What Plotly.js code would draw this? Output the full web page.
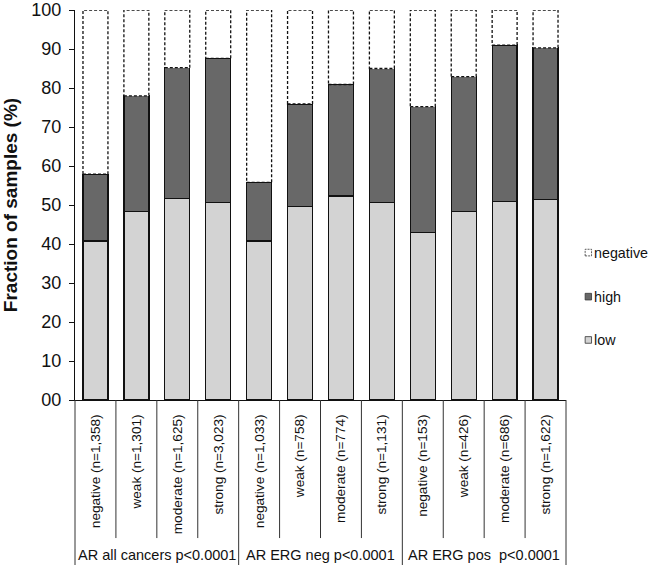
<!DOCTYPE html>
<html>
<head>
<meta charset="utf-8">
<script src="https://cdn.plot.ly/plotly-3.0.1.min.js"></script>
<style>html,body{margin:0;padding:0;background:#fff;}#chart{width:651px;height:565px;}</style>
</head>
<body>
<div id="chart"></div>
<script>
// ---- data ----
const categories = [
  "negative (n=1,358)", "weak (n=1,301)", "moderate (n=1,625)", "strong (n=3,023)",
  "negative (n=1,033)", "weak (n=758)", "moderate (n=774)", "strong (n=1,131)",
  "negative (n=153)", "weak (n=426)", "moderate (n=686)", "strong (n=1,622)"
];
const groups = ["AR all cancers p<0.0001", "AR ERG neg p<0.0001", "AR ERG pos\u00a0\u00a0p<0.0001"];
const lowPct      = [40.8, 48.3, 51.7, 50.6, 40.8, 49.6, 52.3, 50.6, 43.0, 48.3, 50.9, 51.5];
const highPct     = [17.1, 29.7, 33.5, 37.0, 15.0, 26.3, 28.6, 34.4, 32.2, 34.6, 40.1, 38.8];
const negativePct = [42.1, 22.0, 14.8, 12.4, 44.2, 24.1, 19.1, 15.0, 24.8, 17.1,  9.0,  9.7];
const seriesNames = ["low", "high", "negative"];
const yTickVals = [0, 10, 20, 30, 40, 50, 60, 70, 80, 90, 100];
const yTickText = ["00", "10", "20", "30", "40", "50", "60", "70", "80", "90", "100"];

// ---- styles ----
const FONT = "Arial, 'Liberation Sans', sans-serif";
const colLow = "#d3d3d3", colHigh = "#686868", colNeg = "#ffffff";
const bargap = 0.39;
const barW = 1 - bargap;

const traces = [
  {type: "bar", name: seriesNames[0], x: categories, y: lowPct,
   marker: {color: colLow, line: {color: "#111", width: 1.3}}, showlegend: false},
  {type: "bar", name: seriesNames[1], x: categories, y: highPct,
   marker: {color: colHigh, line: {color: "#111", width: 1.3}}, showlegend: false},
  {type: "bar", name: seriesNames[2], x: categories, y: negativePct,
   marker: {color: colNeg, line: {color: colNeg, width: 0}}, showlegend: false}
];

const shapes = [];
const annotations = [];
// dashed outlines for the "negative" segments
categories.forEach((c, i) => {
  const base = lowPct[i] + highPct[i];
  shapes.push({type: "rect", xref: "x", yref: "y", layer: "above",
    x0: i - barW / 2, x1: i + barW / 2, y0: base, y1: base + negativePct[i],
    line: {color: "#111", width: 1.3, dash: "3px,2px"}, fillcolor: "rgba(0,0,0,0)"});
});
// category dividers below the axis
const nCat = categories.length;
const perGroup = nCat / groups.length;
for (let k = 0; k <= nCat; k++) {
  const isGroup = k % perGroup === 0;
  shapes.push({type: "line", xref: "paper", yref: "paper",
    x0: k / nCat, x1: k / nCat, y0: 0, y1: isGroup ? -0.43 : -0.354,
    line: {color: "#333", width: 1}});
}
// group labels
groups.forEach((g, gi) => {
  annotations.push({xref: "paper", yref: "paper", x: (gi * perGroup + perGroup / 2) / nCat,
    y: -0.397, text: g, showarrow: false, xanchor: "center", yanchor: "middle",
    font: {family: FONT, size: 14.5, color: "#111"}});
});
// legend (custom, top to bottom: negative, high, low)
const legendItems = [
  {name: seriesNames[2], fill: colNeg, dash: "2px,1px", y: 0.378},
  {name: seriesNames[1], fill: colHigh, dash: "solid", y: 0.265},
  {name: seriesNames[0], fill: colLow, dash: "solid", y: 0.154}
];
legendItems.forEach(it => {
  shapes.push({type: "rect", xref: "paper", yref: "paper",
    x0: 1.039, x1: 1.052, y0: it.y - 0.0085, y1: it.y + 0.0085,
    fillcolor: it.fill, line: {color: "#333", width: 0.8, dash: it.dash}});
  annotations.push({xref: "paper", yref: "paper", x: 1.053, y: it.y, text: it.name,
    showarrow: false, xanchor: "left", yanchor: "middle",
    font: {family: FONT, size: 14.3, color: "#111"}});
});

const layout = {
  width: 651, height: 565,
  margin: {l: 75, r: 85, t: 10, b: 165},
  paper_bgcolor: "#fff", plot_bgcolor: "#fff",
  barmode: "stack", bargap: bargap,
  showlegend: false,
  font: {family: FONT, color: "#111"},
  xaxis: {
    type: "category", tickangle: -90, ticks: "", showline: true, linecolor: "#111", linewidth: 1,
    tickfont: {family: FONT, size: 13.6, color: "#111"}, ticklabelstandoff: 8,
    showgrid: false, zeroline: false, automargin: false, fixedrange: true
  },
  yaxis: {
    range: [0, 100], tickvals: yTickVals, ticktext: yTickText,
    ticks: "outside", ticklen: 5, tickcolor: "#111", tickwidth: 1,
    showline: true, linecolor: "#111", linewidth: 1,
    showgrid: false, zeroline: false, automargin: false,
    tickfont: {family: FONT, size: 18, color: "#111"}, ticklabelstandoff: 4,
    title: {text: "<b>Fraction of samples (%)</b>", font: {family: FONT, size: 19, color: "#111"}, standoff: 8}
  },
  shapes: shapes,
  annotations: annotations
};

Plotly.newPlot("chart", traces, layout, {displayModeBar: false, staticPlot: true});
</script>
</body>
</html>
